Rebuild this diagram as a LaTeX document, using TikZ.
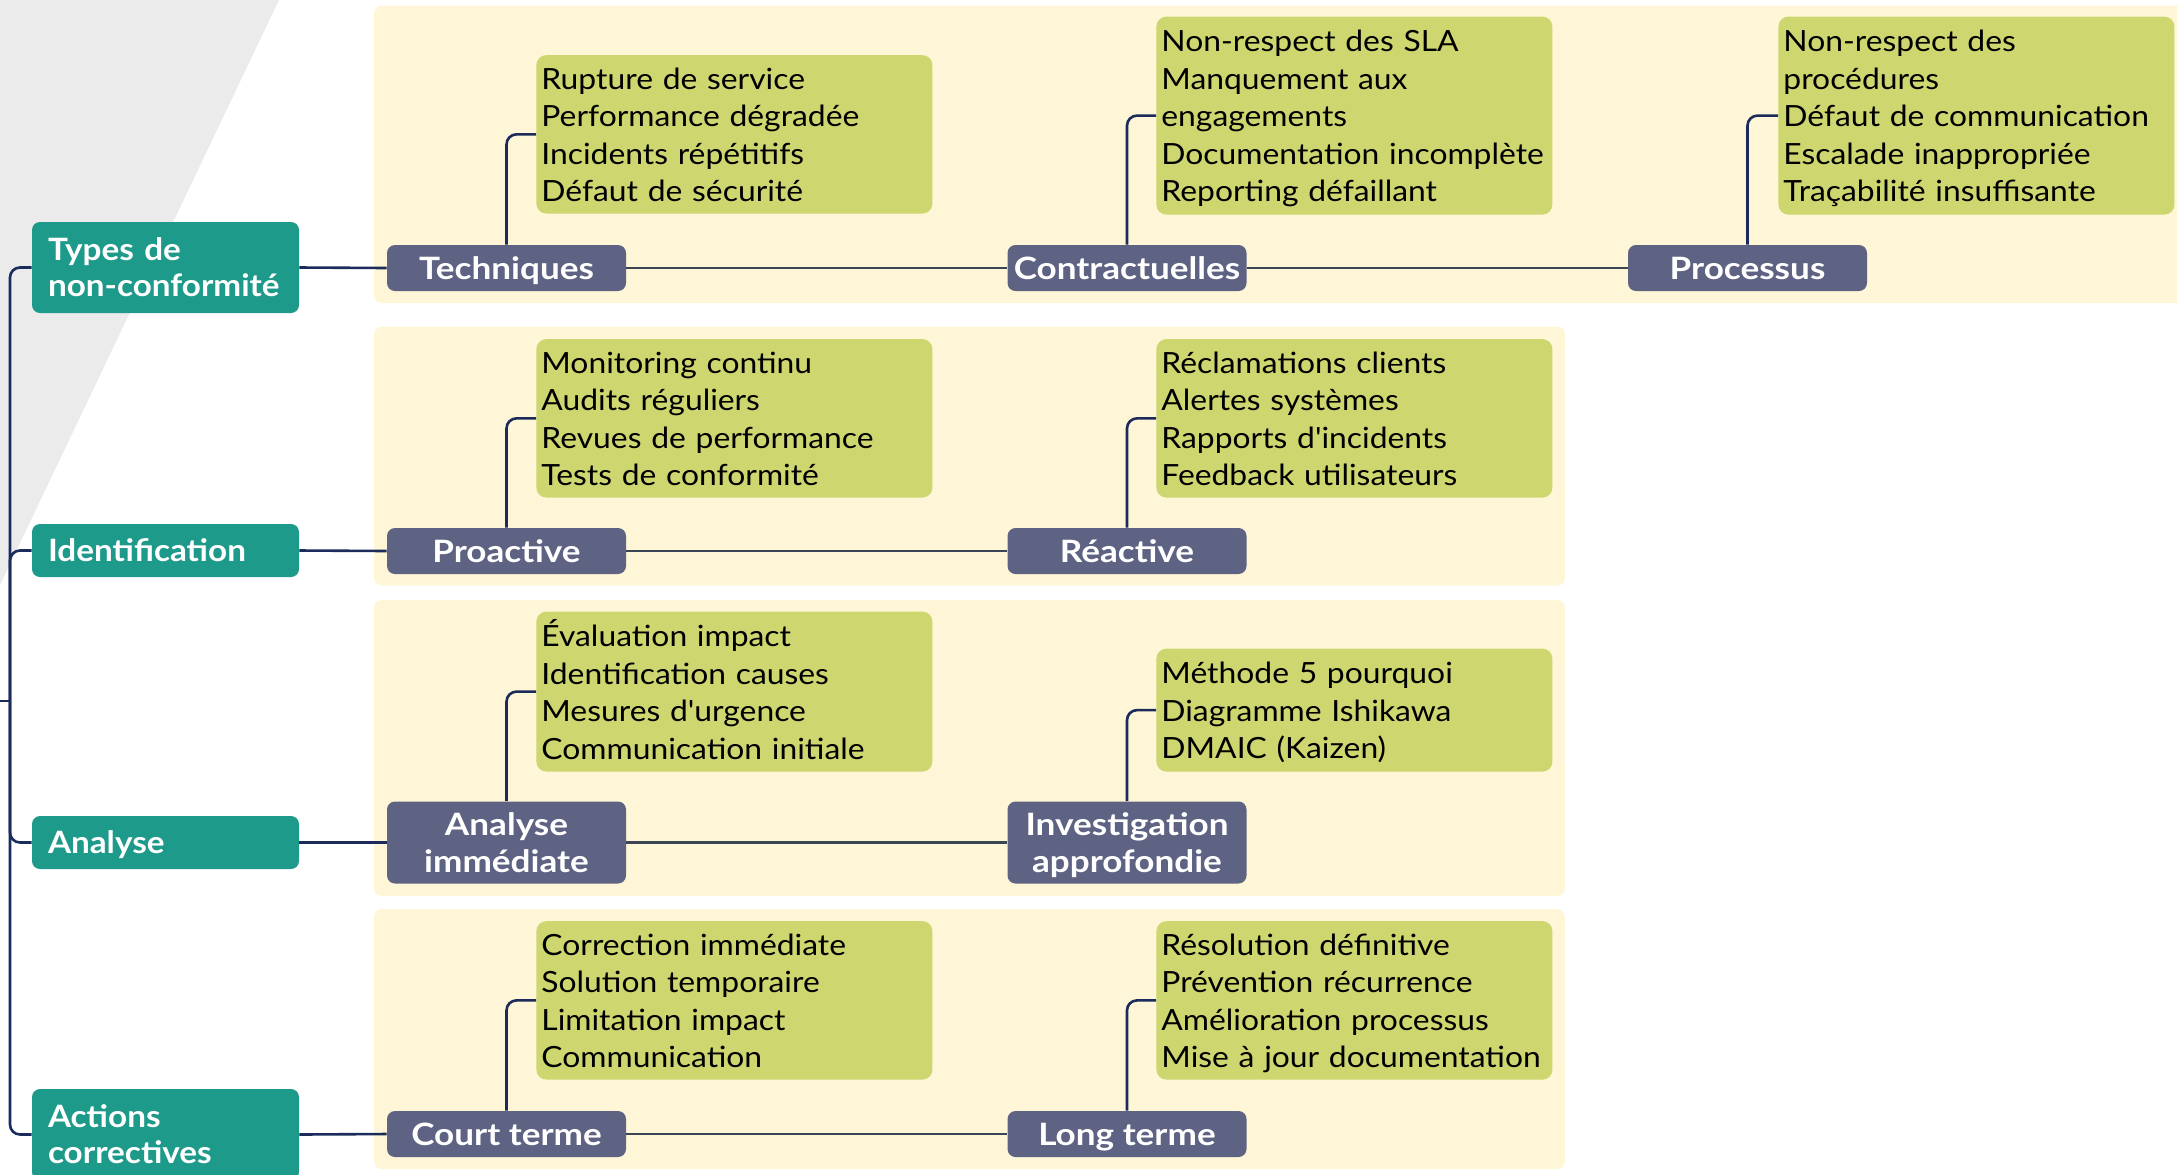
\documentclass[tikz,border=0pt]{standalone}
\usepackage{fontspec}
\setmainfont{Lato}
\newfontfamily\leaffont[FakeStretch=1.09]{Lato}
\newfontfamily\rootfont[FakeStretch=1.08]{Lato}
\newfontfamily\subfont[FakeStretch=1.14]{Lato}
\definecolor{rootteal}{HTML}{1E9A8B}
\definecolor{subslate}{HTML}{5E6384}
\definecolor{leafgreen}{HTML}{CED670}
\definecolor{panelcream}{HTML}{FEF6D6}
\definecolor{wedgegray}{HTML}{EBEBEC}
\definecolor{linknavy}{HTML}{1B2B5B}
\definecolor{linkslate}{HTML}{3A4556}
\tikzset{
  % fixed first-line height and last-line depth, so every block centres alike
  vstruts/.style 2 args={execute at begin node={\rule{0pt}{#1}},
    execute at end node={\rule[-#2]{0pt}{#2}}},
  rootbox/.style={fill=rootteal, rounded corners=4pt, text=white, align=left,
    text width=117.5pt, inner xsep=8pt, inner ysep=0pt,
    font=\rootfont\bfseries\fontsize{15.4pt}{18pt}\selectfont},
  subbox/.style={fill=subslate, rounded corners=4pt, text=white, align=center,
    minimum width=119.5pt, inner sep=0pt,
    font=\subfont\bfseries\fontsize{15.4pt}{18.5pt}\selectfont},
  oneline/.style={text height=11pt, text depth=0pt},
  roottwo/.style={vstruts={15.4pt}{4pt}},
  subtwo/.style={text depth=0pt},
  leafbox/.style={fill=leafgreen, rounded corners=5pt, text=black, align=left,
    text width=193pt, inner xsep=2.5pt, inner ysep=0pt, anchor=south west,
    vstruts={15.8pt}{4.6pt}, font=\leaffont\fontsize{14.6pt}{18.75pt}\selectfont},
  panel/.style={fill=panelcream, rounded corners=4pt},
  link/.style={draw=linknavy, line width=1.3pt},
  chain/.style={draw=linkslate, line width=1.3pt},
  branch/.style={draw=linknavy, line width=1.3pt, rounded corners=5pt},
}
\begin{document}
\begin{tikzpicture}[x=0.5pt, y=-0.5pt]
\clip (0,0) rectangle (2177,1174);
% background wedge
\fill[wedgegray] (0,0) -- (279,0) -- (0,585) -- cycle;
% cream panels behind each row
\fill[panel] (374,5.5) rectangle (2195,303);
\fill[panel] (374,326.5) rectangle (1565,585.5);
\fill[panel] (374,600) rectangle (1565,896);
\fill[panel] (374,909) rectangle (1565,1169);

% first-level categories
\node[rootbox, roottwo, minimum height=45.5pt] (r1) at (165.5,267.5) {Types de\\non-conformité};
\node[rootbox, oneline, minimum height=26.5pt] (r2) at (165.5,550.5) {Identification};
\node[rootbox, oneline, minimum height=26.5pt] (r3) at (165.5,842.5) {Analyse};
\node[rootbox, roottwo, minimum height=45.5pt] (r4) at (165.5,1134.5) {Actions\\correctives};

% second-level categories
\node[subbox, oneline, minimum height=23pt] (p11) at (506.5,268) {Techniques};
\node[subbox, oneline, minimum height=23pt] (p12) at (1127,268) {Contractuelles};
\node[subbox, oneline, minimum height=23pt] (p13) at (1747.5,268) {Processus};
\node[subbox, oneline, minimum height=23pt] (p21) at (506.5,551) {Proactive};
\node[subbox, oneline, minimum height=23pt] (p22) at (1127,551) {Réactive};
\node[subbox, subtwo, minimum height=41pt] (p31) at (506.5,842.5) {Analyse\\immédiate};
\node[subbox, subtwo, minimum height=41pt] (p32) at (1127,842.5) {Investigation\\approfondie};
\node[subbox, oneline, minimum height=23pt] (p41) at (506.5,1134) {Court terme};
\node[subbox, oneline, minimum height=23pt] (p42) at (1127,1134) {Long terme};

% detail lists
\node[leafbox, minimum height=79.25pt] (g11) at (536,214) {Rupture de service\\Performance dégradée\\Incidents répétitifs\\Défaut de sécurité};
\node[leafbox, minimum height=99pt] (g12) at (1156,215) {Non-respect des SLA\\Manquement aux\\engagements\\Documentation incomplète\\Reporting défaillant};
\node[leafbox, minimum height=99pt] (g13) at (1778,215) {Non-respect des\\procédures\\Défaut de communication\\Escalade inappropriée\\Traçabilité insuffisante};
\node[leafbox, minimum height=79.25pt] (g21) at (536,498) {Monitoring continu\\Audits réguliers\\Revues de performance\\Tests de conformité};
\node[leafbox, minimum height=79.25pt] (g22) at (1156,498) {Réclamations clients\\Alertes systèmes\\Rapports d'incidents\\Feedback utilisateurs};
\node[leafbox, minimum height=80pt] (g31) at (536,772) {Évaluation impact\\Identification causes\\Mesures d'urgence\\Communication initiale};
\node[leafbox, minimum height=61.5pt] (g32) at (1156,772) {Méthode 5 pourquoi\\Diagramme Ishikawa\\DMAIC (Kaizen)};
\node[leafbox, minimum height=79.25pt] (g41) at (536,1080) {Correction immédiate\\Solution temporaire\\Limitation impact\\Communication};
\node[leafbox, minimum height=79.25pt] (g42) at (1156,1080) {Résolution définitive\\Prévention récurrence\\Amélioration processus\\Mise à jour documentation};

% spine on the left
\coordinate (hub) at (10,701);
\draw[link] (0,701) -- (hub);
\foreach \r in {r1,r2,r3,r4} \draw[branch] (hub) |- (\r.west);

% category to first sub-category
\foreach \r/\p in {r1/p11,r2/p21,r3/p31,r4/p41} \draw[link] (\r.east) -- (\p.west);
% sub-categories in a row
\foreach \a/\b in {p11/p12,p12/p13,p21/p22,p31/p32,p41/p42} \draw[chain] (\a.east) -- (\b.west);
% sub-category to its list
\foreach \p/\g in {p11/g11,p12/g12,p13/g13,p21/g21,p22/g22,p31/g31,p32/g32,p41/g41,p42/g42}
  \draw[branch] (\p.north) |- (\g.west);
\end{tikzpicture}
\end{document}
